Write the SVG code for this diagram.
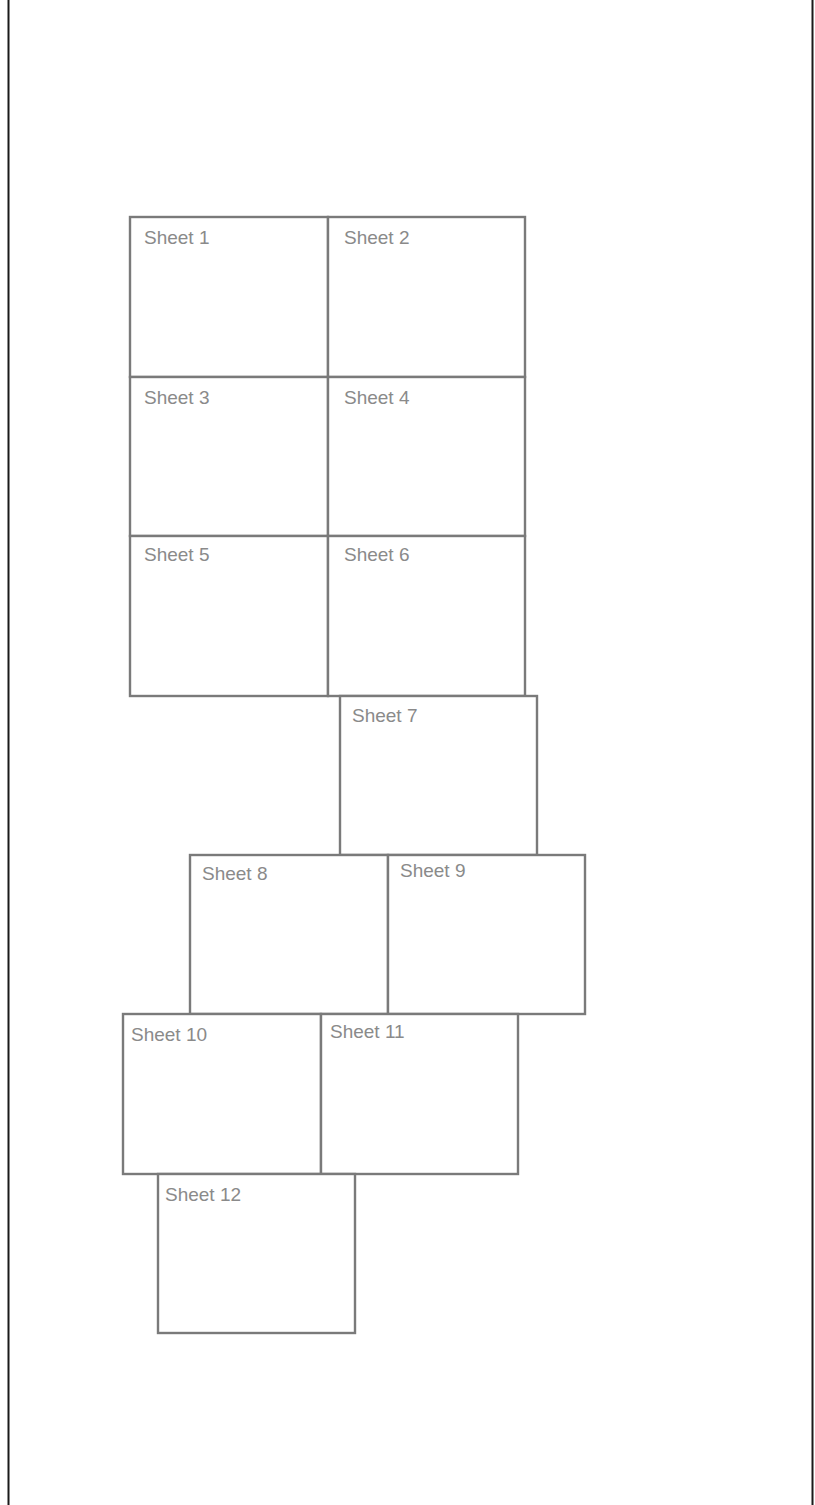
<svg xmlns="http://www.w3.org/2000/svg" width="815" height="1505" viewBox="0 0 815 1505">
<style>
.sheet{fill:#fff;stroke:#7a7a7a;stroke-width:2.4}
.lbl{font-family:"Liberation Sans",Arial,sans-serif;font-size:19px;fill:#8a8a8a}
.edge{stroke:#1a1a1a;stroke-width:2}
</style>
<rect width="815" height="1505" fill="#fff"/>
<line class="edge" x1="8.5" y1="0" x2="8.5" y2="1505"/>
<line class="edge" x1="812.5" y1="0" x2="812.5" y2="1505"/>
<g id="sheet1"><rect class="sheet" x="130" y="217" width="198" height="160"/><text class="lbl" x="144" y="244">Sheet 1</text></g>
<g id="sheet2"><rect class="sheet" x="328" y="217" width="197" height="160"/><text class="lbl" x="344" y="244">Sheet 2</text></g>
<g id="sheet3"><rect class="sheet" x="130" y="377" width="198" height="159"/><text class="lbl" x="144" y="404">Sheet 3</text></g>
<g id="sheet4"><rect class="sheet" x="328" y="377" width="197" height="159"/><text class="lbl" x="344" y="404">Sheet 4</text></g>
<g id="sheet5"><rect class="sheet" x="130" y="536" width="198" height="160"/><text class="lbl" x="144" y="561">Sheet 5</text></g>
<g id="sheet6"><rect class="sheet" x="328" y="536" width="197" height="160"/><text class="lbl" x="344" y="561">Sheet 6</text></g>
<g id="sheet7"><rect class="sheet" x="340" y="696" width="197" height="159"/><text class="lbl" x="352" y="722">Sheet 7</text></g>
<g id="sheet8"><rect class="sheet" x="190" y="855" width="198" height="159"/><text class="lbl" x="202" y="880">Sheet 8</text></g>
<g id="sheet9"><rect class="sheet" x="388" y="855" width="197" height="159"/><text class="lbl" x="400" y="877">Sheet 9</text></g>
<g id="sheet10"><rect class="sheet" x="123" y="1014" width="198" height="160"/><text class="lbl" x="131" y="1041">Sheet 10</text></g>
<g id="sheet11"><rect class="sheet" x="321" y="1014" width="197" height="160"/><text class="lbl" x="330" y="1038">Sheet 11</text></g>
<g id="sheet12"><rect class="sheet" x="158" y="1174" width="197" height="159"/><text class="lbl" x="165" y="1201">Sheet 12</text></g>
<g id="connectors"/>
</svg>
